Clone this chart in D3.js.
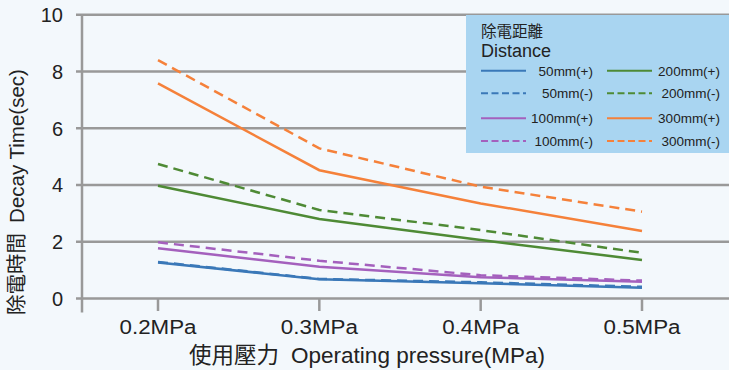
<!DOCTYPE html>
<html><head><meta charset="utf-8">
<script src="https://cdn.jsdelivr.net/npm/d3@7"></script>
<style>body{margin:0;background:#f3f8fc;}svg{display:block;font-family:"Liberation Sans",Arial,sans-serif;}</style>
</head><body>
<svg id="c" width="729" height="370"></svg>
<script>
const categories = ["0.2MPa","0.3MPa","0.4MPa","0.5MPa"];
const yTicks = [0,2,4,6,8,10];
const seriesNames = ["50mm(+)","50mm(-)","100mm(+)","100mm(-)","200mm(+)","200mm(-)","300mm(+)","300mm(-)"];
const s50p  = [1.27,0.68,0.54,0.38];
const s50m  = [1.29,0.69,0.57,0.41];
const s100p = [1.77,1.12,0.75,0.59];
const s100m = [1.98,1.33,0.82,0.63];
const s200p = [3.97,2.80,2.06,1.36];
const s200m = [4.74,3.12,2.41,1.61];
const s300p = [7.58,4.52,3.35,2.38];
const s300m = [8.40,5.29,3.94,3.06];
const seriesValues = [s50p,s50m,s100p,s100m,s200p,s200m,s300p,s300m];
const colors = ["#3a78b8","#3a78b8","#a460bd","#a460bd","#4e8a35","#4e8a35","#f5813a","#f5813a"];

const svg = d3.select("#c");
const y = d3.scaleLinear().domain([0,10]).range([298.5,14.7]);
const x = d3.scalePoint().domain(categories).range([158,642]);

// gridlines
svg.append("g").selectAll("line").data(yTicks).join("line")
  .attr("x1",76).attr("x2",729).attr("y1",d=>y(d)).attr("y2",d=>y(d))
  .attr("stroke","#999").attr("stroke-width",2.5);
// y axis line
svg.append("line").attr("x1",82).attr("x2",82).attr("y1",14).attr("y2",312.5)
  .attr("stroke","#999").attr("stroke-width",2.5);
// y tick labels
svg.append("g").selectAll("text").data(yTicks).join("text")
  .attr("x",63).attr("y",d=>y(d)+7.5).attr("text-anchor","end")
  .attr("font-size",20).attr("fill","#222").text(d=>d);
// x ticks
svg.append("g").selectAll("line").data(categories).join("line")
  .attr("x1",d=>x(d)).attr("x2",d=>x(d)).attr("y1",299).attr("y2",311)
  .attr("stroke","#999").attr("stroke-width",2.5);
svg.append("g").selectAll("text").data(categories).join("text")
  .attr("x",d=>x(d)).attr("y",334).attr("text-anchor","middle")
  .attr("font-size",19.5).attr("textLength",77).attr("lengthAdjust","spacingAndGlyphs")
  .attr("fill","#222").text(d=>d);
// axis titles
const xt = svg.append("text").attr("x",367).attr("y",363).attr("text-anchor","middle")
  .attr("font-size",22.5).attr("fill","#222");
xt.append("tspan").attr("font-family","Noto Sans CJK TC").text("使用壓力");
xt.append("tspan").attr("dx",12).text("Operating pressure(MPa)");
const yt = svg.append("text").attr("transform","translate(23.5,192) rotate(-90)").attr("text-anchor","middle")
  .attr("font-size",20.5).attr("fill","#222");
yt.append("tspan").attr("font-family","Noto Sans CJK TC").text("除電時間");
yt.append("tspan").attr("dx",10).text("Decay Time(sec)");

// lines
const line = d3.line().x((d,i)=>x(categories[i])).y(d=>y(d));
seriesValues.forEach((vals,k)=>{
  svg.append("path").attr("d",line(vals)).attr("fill","none")
    .attr("stroke",colors[k]).attr("stroke-width",2.5)
    .attr("stroke-dasharray",k%2===1?"10,6":null);
});

// legend
const lg = svg.append("g");
lg.append("rect").attr("x",466).attr("y",15).attr("width",263).attr("height",138).attr("fill","#a9d5f1");
lg.append("text").attr("x",481).attr("y",37).attr("font-size",15.5).attr("fill","#222")
  .attr("font-family","Noto Sans CJK TC").text("除電距離");
lg.append("text").attr("x",481).attr("y",57).attr("font-size",18).attr("fill","#222").text("Distance");
const rowsY = [70.7,93.3,118.3,141];
seriesNames.forEach((n,k)=>{
  const col = Math.floor(k/4), row = k%4;
  const lx = col===0?481:607, tx = col===0?593:720;
  lg.append("line").attr("x1",lx).attr("x2",lx+45).attr("y1",rowsY[row]).attr("y2",rowsY[row])
    .attr("stroke",colors[k]).attr("stroke-width",2)
    .attr("stroke-dasharray",k%2===1?"7,3.5":null);
  lg.append("text").attr("x",tx).attr("y",rowsY[row]+5).attr("text-anchor","end")
    .attr("font-size",13.5).attr("fill","#222").text(n);
});
</script>
</body></html>
